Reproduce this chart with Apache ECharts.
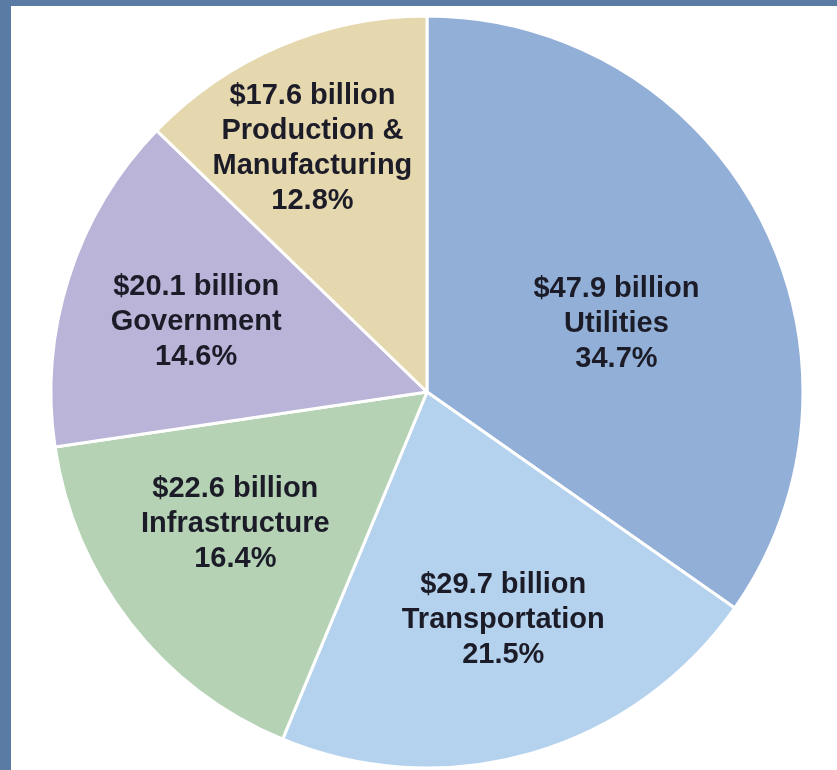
<!DOCTYPE html>
<html>
<head>
<meta charset="utf-8">
<script src="https://cdn.jsdelivr.net/npm/echarts@6/dist/echarts.min.js"></script>
<style>
  html, body { margin: 0; padding: 0; width: 837px; height: 770px; overflow: hidden;
    background: #5a7ba3; }
  #chart { position: absolute; left: 11px; top: 6px; width: 826px; height: 764px; background: #ffffff; }
</style>
</head>
<body>
<div id="chart"></div>
<script>
const categories = ['Utilities', 'Transportation', 'Infrastructure', 'Government', 'Production &\nManufacturing'];
const valuesBillion = [47.9, 29.7, 22.6, 20.1, 17.6];
const percentLabels = ['34.7%', '21.5%', '16.4%', '14.6%', '12.8%'];

const sliceColors = ['#92afd7', '#b4d2ee', '#b5d2b5', '#b9b4d8', '#e5d7ae'];
const labelOffsets = [[20, 20], [23, 45], [-41, 15], [-49, -12], [-40, -68]];

const chart = echarts.init(document.getElementById('chart'), null, { renderer: 'canvas' });
const data = categories.map((name, i) => ({
  name: name,
  value: valuesBillion[i],
  itemStyle: { color: sliceColors[i] },
  label: { offset: labelOffsets[i] }
}));

chart.setOption({
  animation: false,
  series: [{
    type: 'pie',
    center: [416, 386],
    radius: [0, 376],
    startAngle: 90,
    clockwise: true,
    data: data,
    itemStyle: { borderColor: '#ffffff', borderWidth: 3 },
    label: {
      show: true,
      position: 'inside',
      formatter: function (p) {
        return '$' + p.value + ' billion\n' + p.name + '\n' + percentLabels[p.dataIndex];
      },
      fontFamily: "'Liberation Sans', Arial, sans-serif",
      fontWeight: 'bold',
      fontSize: 29,
      lineHeight: 35,
      color: '#1c1c28',
      align: 'center'
    },
    labelLine: { show: false },
    emphasis: { disabled: true }
  }]
});
</script>
</body>
</html>
